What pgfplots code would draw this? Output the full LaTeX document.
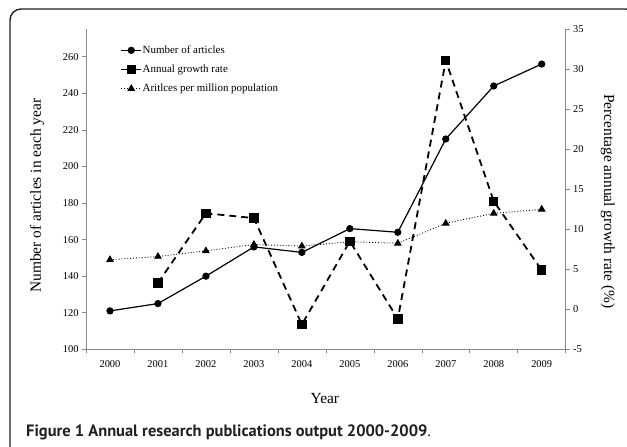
\documentclass[border=0pt]{standalone}
\usepackage{fontspec}
\setmainfont{Liberation Serif}
\newfontfamily\capfont{PT Sans}
\usepackage{pgfplots}
\usepackage{pgfplotstable}
\pgfplotsset{compat=1.18}
\definecolor{axisgray}{HTML}{888888}
\definecolor{capink}{HTML}{231F20}

% year index, number of articles, articles per million population (right axis)
\pgfplotstableread{
x articles permillion
0 121 6.2
1 125 6.6
2 140 7.3
3 156 8.1
4 153 7.9
5 166 8.45
6 164 8.25
7 215 10.75
8 244 12.0
9 256 12.5
}\yeardata

% annual growth rate (%)
\pgfplotstableread{
x growth
1 3.3
2 12.0
3 11.4
4 -1.9
5 8.5
6 -1.2
7 31.1
8 13.5
9 4.9
}\growthdata

\pgfplotsset{
  base/.style={
    at={(86bp,97.7bp)}, anchor=south west,
    scale only axis, width=479.7bp, height=320bp,
    xmin=-0.5, xmax=9.5, enlargelimits=false,
    axis line style={axisgray, line width=0.8bp},
    tick style={axisgray, line width=0.6bp},
    tick align=outside, major tick length=4bp,
    ticklabel style={font=\fontsize{10.5}{12}\selectfont},
    /pgf/number format/assume math mode=true,
    clip=false,
  },
  artstyle/.style={black, line width=1.2bp, mark=*, mark size=3bp},
  growstyle/.style={black, line width=1.8bp, dash pattern=on 7bp off 5bp,
    mark=square*, mark size=3.8bp, mark options={solid}},
  popstyle/.style={black, line width=0.9bp, dotted,
    mark=triangle*, mark size=3.6bp, mark options={solid}},
}

\begin{document}
\begin{tikzpicture}
\path[use as bounding box] (0,0) rectangle (627bp,447bp);
\draw[capink, line width=1.4bp, rounded corners=11bp]
  (10bp,-10bp) -- (10bp,438bp) -- (637bp,438bp) -- (637bp,-10bp);

\begin{axis}[base,
  axis y line*=left, axis x line*=bottom,
  ymin=100, ymax=275, ytick={100,120,...,260},
  xtick={-0.5,0.5,...,9.5}, x tick label as interval,
  xticklabels={2000,2001,2002,2003,2004,2005,2006,2007,2008,2009},
  xticklabel style={yshift=-4bp},
  xlabel={Year},
  xlabel style={font=\fontsize{15.5}{18}\selectfont, at={(axis description cs:0.498,-0.155)}, anchor=center},
  ylabel={Number of articles in each year},
  ylabel style={font=\fontsize{15.5}{18}\selectfont, at={(axis description cs:-0.102,0.48)}, anchor=center},
  legend style={draw=none, fill=none, at={(axis description cs:0.065,0.957)}, anchor=north west,
    font=\fontsize{11}{12}\selectfont, row sep=9bp, nodes={inner sep=0.5bp}},
  legend cell align=left,
  legend image code/.code={\draw[mark repeat=2,mark phase=2,#1] plot coordinates {(0bp,0bp) (10bp,0bp) (20bp,0bp)};},
]
\addplot[artstyle] table[x=x, y=articles] {\yeardata};
\addlegendentry{Number of articles}
\addlegendimage{growstyle, dash pattern=on 20bp off 0bp}
\addlegendentry{Annual growth rate}
\addlegendimage{popstyle, dash pattern=on 0.9bp off 2bp}
\addlegendentry{Aritlces per million population}
\end{axis}

\begin{axis}[base,
  axis y line*=right, axis x line=none,
  ymin=-5, ymax=35, ytick={-5,0,...,35},
  ylabel={Percentage annual growth rate (\%)},
  ylabel style={font=\fontsize{15.5}{18}\selectfont, at={(axis description cs:1.088,0.462)}, anchor=center, rotate=180},
]
\addplot[growstyle] table[x=x, y=growth] {\growthdata};
\addplot[popstyle] table[x=x, y=permillion] {\yeardata};
\end{axis}

\node[anchor=base west, inner sep=0pt, text=capink, font=\capfont\fontsize{16.5}{18}\selectfont]
  at (26bp,10.5bp) {\textbf{Figure 1 Annual research publications output 2000-2009}.};
\end{tikzpicture}
\end{document}
